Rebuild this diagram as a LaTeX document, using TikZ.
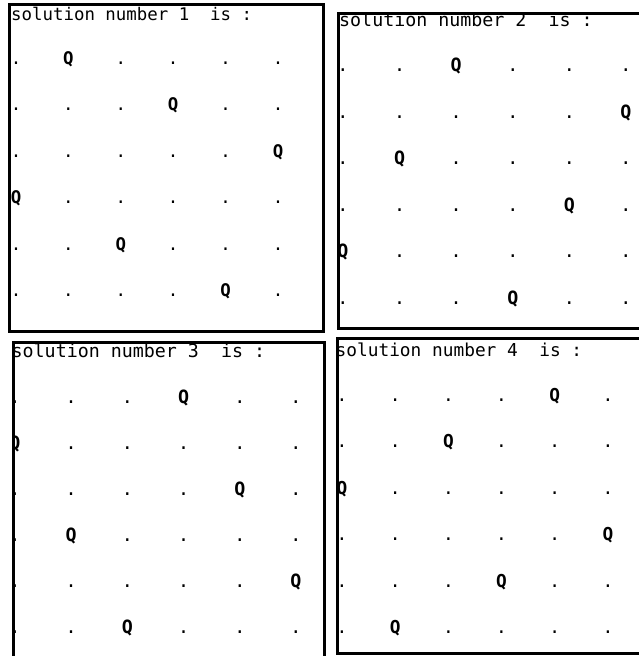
\documentclass[tikz,border=0pt]{standalone}
\usepackage{fontspec}
\newfontfamily\termfont{DejaVu Sans Mono}[WordSpace={1,0,0}]

% one 6x6 board: name, first column x, first baseline y, dx, dy, font size, queen columns
\newcommand{\qboard}[7]{%
  \foreach \q [count=\r] in {#7} {
    \foreach \c in {1,...,6} {
      \ifnum\c=\q
        \node[queen,font={\termfont\fontsize{#6}{#6}\selectfont\bfseries}] (#1-\r-\c)
          at ({#2+(\c-1)*#4},{#3+(\r-1)*#5}) {Q};
      \else
        \node[cell,font={\termfont\fontsize{#6}{#6}\selectfont}] (#1-\r-\c)
          at ({#2+(\c-1)*#4},{#3+(\r-1)*#5}) {.};
      \fi
    }
  }%
}

\begin{document}
\begin{tikzpicture}[x=1pt,y=-1pt,
  frame/.style={line width=3pt},
  title/.style={anchor=base west,inner sep=0pt},
  queen/.style={anchor=base,inner sep=0pt},
  cell/.style={anchor=base,inner sep=0pt}]
  \useasboundingbox (0,0) rectangle (638,656);

  % solution 1
  \begin{scope}
    \clip (9,4) rectangle (323,331);
    \node[title,font={\termfont\fontsize{17.4}{18}\selectfont}] (t1) at (11,20) {solution number 1\ \ is :};
    \qboard{a}{16}{64.5}{52.4}{46.4}{17.4}{2,4,6,1,3,5}
  \end{scope}
  \draw[frame] (9,4) rectangle (323,331);

  % solution 2
  \begin{scope}
    \clip (338,13) rectangle (645,328);
    \node[title,font={\termfont\fontsize{18.3}{19}\selectfont}] (t2) at (339,26) {solution number 2\ \ is :};
    \qboard{b}{343}{71.5}{56.6}{46.6}{18.3}{3,6,2,5,1,4}
  \end{scope}
  \draw[frame] (338,13) rectangle (645,328);

  % solution 3
  \begin{scope}
    \clip (13,342) rectangle (324,665);
    \node[title,font={\termfont\fontsize{18.3}{19}\selectfont}] (t3) at (11.5,357) {solution number 3\ \ is :};
    \qboard{c}{15}{403.5}{56.2}{46}{18.3}{4,1,5,2,6,3}
  \end{scope}
  \draw[frame] (13,342) rectangle (324,665);

  % solution 4
  \begin{scope}
    \clip (337,338) rectangle (645,653);
    \node[title,font={\termfont\fontsize{17.8}{18}\selectfont}] (t4) at (335.5,356) {solution number 4\ \ is :};
    \qboard{d}{342}{401.5}{53.2}{46.4}{17.8}{5,3,1,6,4,2}
  \end{scope}
  \draw[frame] (337,338) rectangle (645,653);
\end{tikzpicture}
\end{document}
